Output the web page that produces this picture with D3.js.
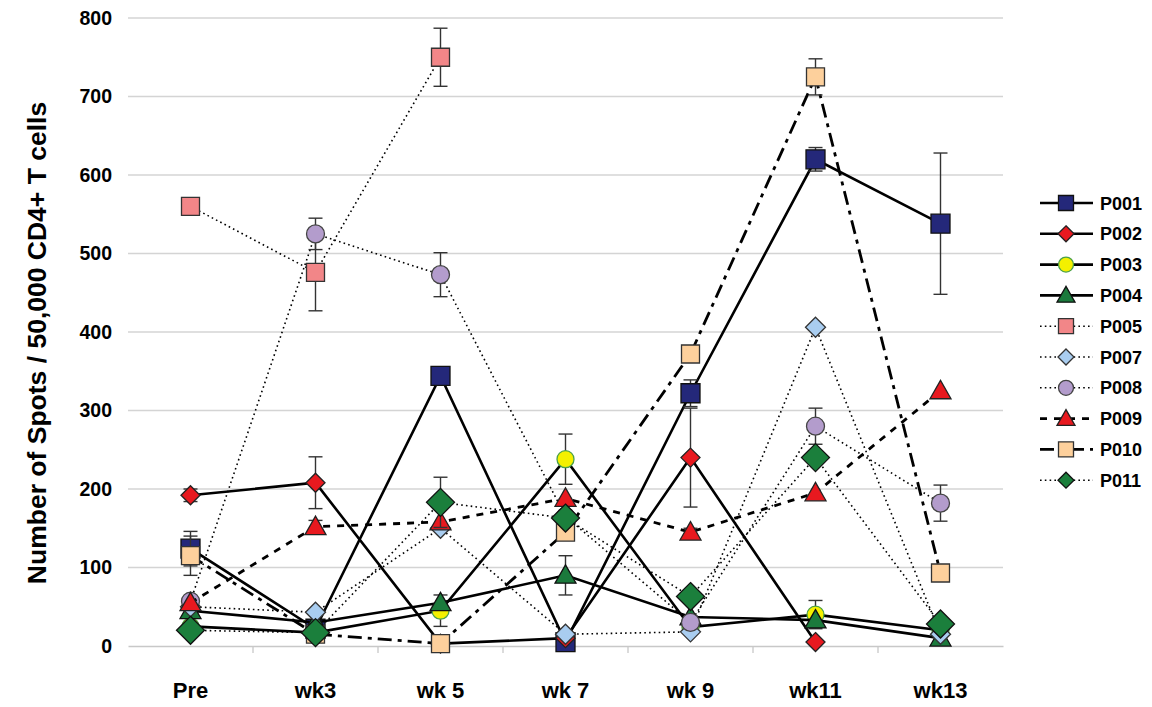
<!DOCTYPE html>
<html>
<head>
<meta charset="utf-8">
<script src="https://cdn.jsdelivr.net/npm/d3@7"></script>
<style>
  html, body { margin: 0; padding: 0; background: #fff; }
  svg { display: block; font-family: "Liberation Sans", Arial, sans-serif; }
</style>
</head>
<body>
<svg id="chart" width="1152" height="707"></svg>
<script>
// Time points and y-axis ticks
const categories = ["Pre", "wk3", "wk 5", "wk 7", "wk 9", "wk11", "wk13"];
const yTicks = [0, 100, 200, 300, 400, 500, 600, 700, 800];

// Spots per 50,000 CD4+ T cells for each patient (null = not measured)
const p001 = [124, 22, 344, 5, 322, 620, 538];
const p002 = [192, 208, 3, 10, 240, 5, null];
const p003 = [25, 17, 45, 238, 24, 40, 20];
const p004 = [45, 30, 55, 90, 37, 33, 10];
const p005 = [560, 476, 750, null, null, null, null];
const p007 = [50, 43, 150, 15, 18, 406, 15];
const p008 = [57, 525, 473, 165, 30, 280, 182];
const p009 = [55, 152, 158, 188, 145, 195, 325];
const p010 = [115, 15, 3, 145, 372, 725, 93];
const p011 = [20, 17, 183, 163, 63, 240, 28];

// Error bar half-widths (null = no bar)
const p001Err = [22, null, null, null, 17, 15, 90];
const p002Err = [8, 33, null, null, 63, null, null];
const p003Err = [null, null, 20, 32, null, 18, null];
const p004Err = [null, null, null, 25, null, null, null];
const p005Err = [null, 49, 37, null, null, null, null];
const p008Err = [null, 20, 28, null, null, 23, 23];
const p009Err = [null, 8, null, null, 5, null, null];
const p010Err = [25, null, null, null, null, 23, 8];
const p011Err = [null, null, 32, null, null, null, null];

const seriesNames = ["P001", "P002", "P003", "P004", "P005", "P007", "P008", "P009", "P010", "P011"];

const series = [
  { name: "P001", values: p001, err: p001Err, shape: "square",   size: 9.5, fill: "#24287a", stroke: "#111", dash: null,       lw: 2.6 },
  { name: "P002", values: p002, err: p002Err, shape: "diamond",  size: 9.5, fill: "#e8191f", stroke: "#222", dash: null,       lw: 2.6 },
  { name: "P003", values: p003, err: p003Err, shape: "circle",   size: 8.5, fill: "#f4f000", stroke: "#4aa04a", dash: null,    lw: 2.6 },
  { name: "P004", values: p004, err: p004Err, shape: "triangle", size: 10.5,fill: "#1b7a3c", stroke: "#111", dash: null,       lw: 2.6 },
  { name: "P005", values: p005, err: p005Err, shape: "square",   size: 9,   fill: "#f28688", stroke: "#333", dash: "1.6,3.2",  lw: 1.6 },
  { name: "P007", values: p007, err: null,    shape: "diamond",  size: 10,  fill: "#a9cdf0", stroke: "#333", dash: "1.6,3.2",  lw: 1.6 },
  { name: "P008", values: p008, err: p008Err, shape: "circle",   size: 9,   fill: "#b39ccc", stroke: "#444", dash: "1.6,3.2",  lw: 1.6 },
  { name: "P009", values: p009, err: p009Err, shape: "triangle", size: 10.5,fill: "#e8191f", stroke: "#222", dash: "7,7",      lw: 2.8 },
  { name: "P010", values: p010, err: p010Err, shape: "square",   size: 9,   fill: "#fdd09c", stroke: "#333", dash: "14,6,4,6", lw: 2.8 },
  { name: "P011", values: p011, err: p011Err, shape: "diamond",  size: 14,  fill: "#1b7f3c", stroke: "#111", dash: "1.6,3.2",  lw: 1.6 }
];

const svg = d3.select("#chart");
const plot = { left: 128, right: 1003, top: 18, bottom: 646 };

const x = d3.scaleBand().domain(categories).range([plot.left, plot.right]).padding(0);
const cx = c => x(c) + x.bandwidth() / 2;
const y = d3.scaleLinear().domain([0, 800]).range([plot.bottom, plot.top]);

// Horizontal gridlines
svg.append("g")
  .selectAll("line")
  .data(yTicks.filter(t => t > 0))
  .join("line")
  .attr("x1", plot.left).attr("x2", plot.right)
  .attr("y1", d => y(d)).attr("y2", d => y(d))
  .attr("stroke", "#d4d4d4").attr("stroke-width", 1.3);

// X axis (ticks between categories)
const xAxis = d3.axisBottom(x).tickSize(0).tickPadding(36);
const gx = svg.append("g").attr("transform", `translate(0,${plot.bottom})`).call(xAxis);
gx.select(".domain").attr("stroke", "#c8c8c8").attr("stroke-width", 1.5);
gx.selectAll("text").attr("font-size", 22).attr("font-weight", "bold").attr("fill", "#000")
  .attr("font-family", "Liberation Sans, Arial, sans-serif");
svg.append("g").selectAll("line")
  .data(categories.slice(1))
  .join("line")
  .attr("x1", d => x(d)).attr("x2", d => x(d))
  .attr("y1", plot.bottom).attr("y2", plot.bottom + 7)
  .attr("stroke", "#c8c8c8").attr("stroke-width", 1.3);

// Y axis labels
const yAxis = d3.axisLeft(y).tickValues(yTicks).tickSize(0).tickPadding(16);
const gy = svg.append("g").attr("transform", `translate(${plot.left},0)`).call(yAxis);
gy.select(".domain").remove();
gy.selectAll("text").attr("font-size", 19.5).attr("font-weight", "bold").attr("fill", "#000")
  .attr("font-family", "Liberation Sans, Arial, sans-serif");

// Y axis title
svg.append("text")
  .attr("transform", `translate(46,${(plot.top + plot.bottom) / 2 + 11}) rotate(-90)`)
  .attr("text-anchor", "middle")
  .attr("font-size", 26.5).attr("font-weight", "bold")
  .text("Number of Spots / 50,000 CD4+ T cells");

// Marker shapes
function markerPath(shape, s) {
  switch (shape) {
    case "square": return `M${-s},${-s}H${s}V${s}H${-s}Z`;
    case "diamond": return `M0,${-s}L${s},0L0,${s}L${-s},0Z`;
    case "triangle": return `M0,${-s}L${s},${s * 0.75}L${-s},${s * 0.75}Z`;
    case "circle": return null;
  }
}
function drawMarker(g, s, px, py) {
  if (s.shape === "circle") {
    g.append("circle").attr("cx", px).attr("cy", py).attr("r", s.size)
      .attr("fill", s.fill).attr("stroke", s.stroke).attr("stroke-width", 1.3);
  } else {
    g.append("path").attr("d", markerPath(s.shape, s.size))
      .attr("transform", `translate(${px},${py})`)
      .attr("fill", s.fill).attr("stroke", s.stroke).attr("stroke-width", 1.3);
  }
}

const line = d3.line()
  .defined(d => d.v != null)
  .x(d => cx(d.c))
  .y(d => y(d.v));

const marks = svg.append("g");
series.forEach(s => {
  const g = marks.append("g");
  const pts = categories.map((c, i) => ({ c, v: s.values[i], e: s.err ? s.err[i] : null }));
  g.append("path").datum(pts)
    .attr("d", line)
    .attr("fill", "none").attr("stroke", "#000")
    .attr("stroke-width", s.lw)
    .attr("stroke-dasharray", s.dash);
  // error bars
  pts.filter(p => p.v != null && p.e != null).forEach(p => {
    const px = cx(p.c), lo = y(p.v - p.e), hi = y(p.v + p.e);
    g.append("line").attr("x1", px).attr("x2", px).attr("y1", lo).attr("y2", hi)
      .attr("stroke", "#333").attr("stroke-width", 1.4);
    [lo, hi].forEach(yy => g.append("line")
      .attr("x1", px - 7).attr("x2", px + 7).attr("y1", yy).attr("y2", yy)
      .attr("stroke", "#333").attr("stroke-width", 1.4));
  });
  pts.filter(p => p.v != null).forEach(p => drawMarker(g, s, cx(p.c), y(p.v)));
});

// Legend
const legend = svg.append("g");
const legY0 = 203, legStep = 30.8;
series.forEach((s, i) => {
  const yy = legY0 + i * legStep;
  const g = legend.append("g");
  g.append("line").attr("x1", 1040).attr("x2", 1093).attr("y1", yy).attr("y2", yy)
    .attr("stroke", "#000").attr("stroke-width", s.lw)
    .attr("stroke-dasharray", s.dash);
  const ls = Object.assign({}, s, { size: s.shape === "diamond" ? 8 : (s.shape === "triangle" ? 9 : 7.5) });
  drawMarker(g, ls, 1066, yy);
  g.append("text").attr("x", 1100).attr("y", yy + 6.5)
    .attr("font-size", 18).attr("font-weight", "bold")
    .text(seriesNames[i]);
});
</script>
</body>
</html>
